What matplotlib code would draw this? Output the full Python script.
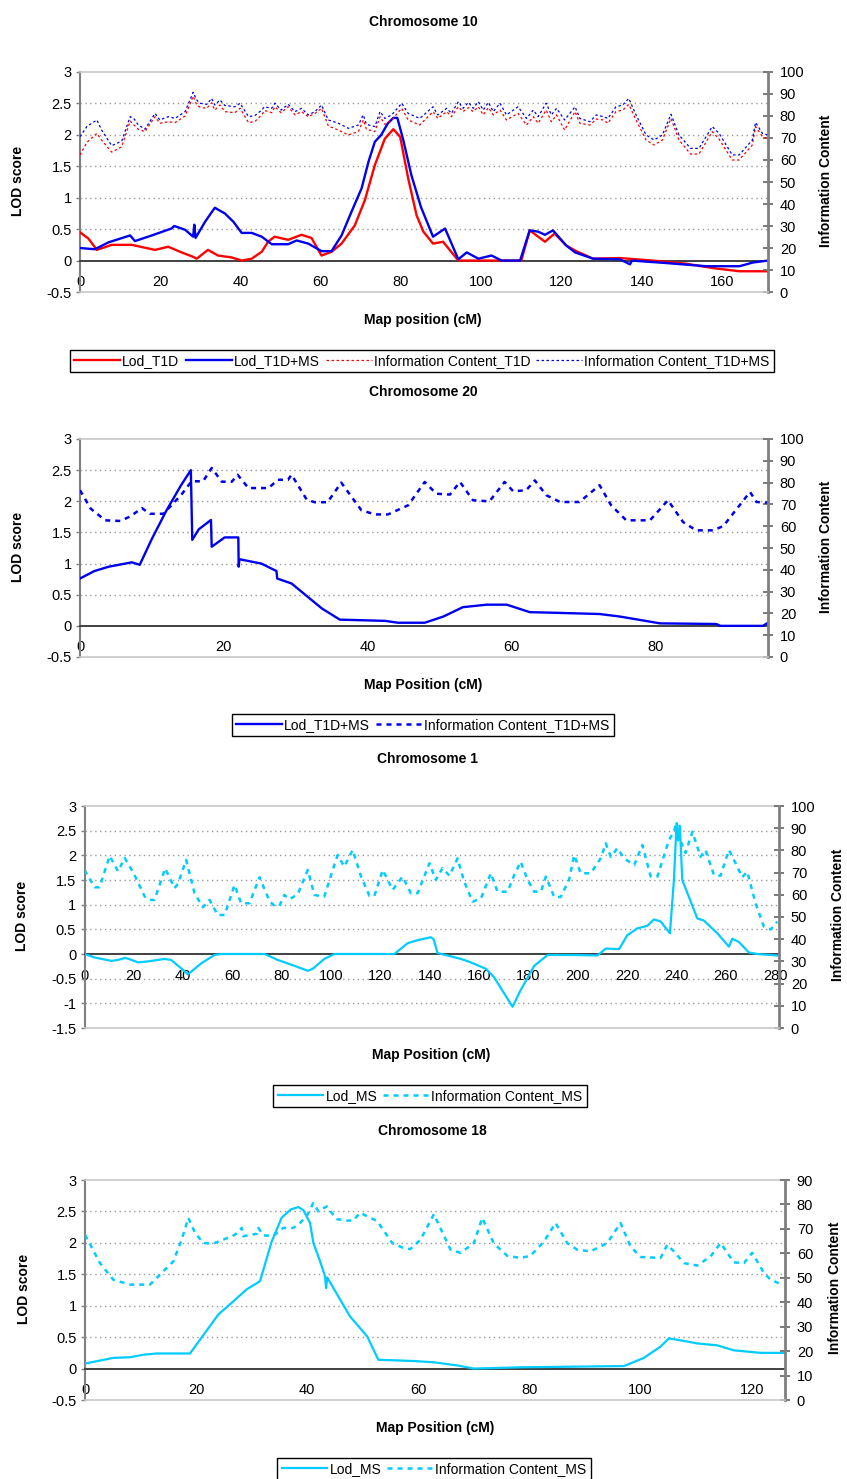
import matplotlib
matplotlib.use('Agg')
import matplotlib.pyplot as plt
from matplotlib.lines import Line2D

plt.rcParams['font.family'] = ['Liberation Sans', 'DejaVu Sans']

# ---------------- Chromosome 10 ----------------
c10_lod_t1d_pos = [0, 2.1, 4.2, 7.9, 12.9, 18.7, 22, 25.3, 28.2, 29.1, 31.9, 34.4, 37.8, 40.3, 42.8,
                   45.3, 46.9, 48.5, 51.9, 55.2, 57.7, 60.2, 62.7, 65.2, 68.5, 71, 73.5, 76, 78.1,
                   79.8, 81.8, 83.9, 85.6, 88, 90.5, 94.3, 104.7, 110, 112.1, 115.9, 118.3, 121.2,
                   123.7, 127.9, 134.6, 142.8, 151.1, 157.8, 164.4, 171.5]
c10_lod_t1d = [0.45, 0.35, 0.17, 0.25, 0.25, 0.17, 0.22, 0.13, 0.06, 0.03, 0.17, 0.08, 0.05, 0.0, 0.03,
               0.14, 0.3, 0.38, 0.33, 0.41, 0.36, 0.08, 0.14, 0.27, 0.56, 0.96, 1.52, 1.94, 2.09,
               1.97, 1.31, 0.72, 0.46, 0.27, 0.3, 0.0, 0.0, 0.0, 0.48, 0.3, 0.43, 0.24,
               0.15, 0.03, 0.04, 0.0, -0.05, -0.12, -0.17, -0.17]

c10_lod_ms_pos = [0, 3.7, 7.1, 12.5, 13.7, 17.9, 22.8, 23.5, 26.2, 28.2, 28.5, 28.8, 31.2, 33.6, 36.1,
                  38.2, 40.3, 42.8, 45.3, 47.8, 51.9, 54, 56.9, 60.2, 62.7, 65.2, 67.7, 70.2, 71.9,
                  73.5, 75.1, 76.7, 78.1, 79.1, 80.5, 82.6, 85, 88, 91, 94.3, 96.4, 99.3, 102.6,
                  105.1, 109.7, 112.1, 114.2, 115.9, 117.9, 121.2, 123.4, 127.9, 134.6, 137.1, 137.6,
                  146.2, 156.2, 164.4, 167.8, 171.5]
c10_lod_ms = [0.2, 0.18, 0.29, 0.4, 0.31, 0.4, 0.51, 0.55, 0.49, 0.38, 0.57, 0.36, 0.62, 0.84, 0.75,
              0.62, 0.44, 0.44, 0.38, 0.26, 0.26, 0.32, 0.27, 0.15, 0.15, 0.4, 0.78, 1.15, 1.57,
              1.89, 2.0, 2.18, 2.27, 2.27, 1.94, 1.36, 0.85, 0.38, 0.51, 0.02, 0.13, 0.03, 0.08,
              0.0, 0.0, 0.48, 0.46, 0.41, 0.48, 0.24, 0.13, 0.03, 0.02, -0.06, 0.0,
              -0.04, -0.09, -0.09, -0.03, 0.0]

c10_info_ms_pos = [0, 1.7, 4.2, 5.4, 7.9, 10.4, 12.5, 13.4, 14.5, 16.2, 18.7, 19.9, 22, 23.7, 26.2,
                   28.2, 29.1, 29.9, 31.6, 32.8, 33.6, 34.9, 36.1, 38.6, 39.9, 42, 43.6, 45.3, 46,
                   47.8, 48.6, 50.1, 51.9, 53.6, 55.2, 56.9, 58.6, 60.2, 61.9, 64.4, 66.9, 69.4,
                   70.6, 71.4, 73.5, 74.8, 76, 77.7, 80.2, 81.8, 84.7, 88, 89.2, 91.4, 92.6, 94.3,
                   95.5, 96.8, 98, 99.3, 100.5, 101.8, 103, 104.7, 106.3, 109.2, 111.3, 113, 114.2,
                   116.2, 117.5, 118.8, 120.8, 123.4, 124.6, 127.1, 128.7, 130.4, 131.6, 133.6,
                   135.3, 136.8, 138.6, 141.1, 143.1, 145.2, 147.3, 149.3, 152.2, 154.3, 157.6,
                   159.3, 162.6, 164.3, 167.6, 168.4, 170.1, 171.5]
c10_info_ms = [70.6, 75.2, 78.2, 73.6, 66.5, 68.6, 79.7, 78.9, 76.0, 74.0, 81.2, 78.2, 79.7, 78.9, 82.0,
               90.8, 87.3, 85.8, 85.3, 88.0, 85.0, 87.3, 84.8, 84.2, 85.8, 79.7, 80.2, 82.7, 84.2,
               83.5, 85.8, 82.7, 85.3, 82.0, 83.5, 80.5, 82.0, 85.0, 78.2, 76.7, 74.4, 75.9,
               80.5, 76.2, 75.2, 82.0, 78.9, 80.5, 85.8, 81.2, 78.9, 84.2, 80.5, 83.5, 81.2, 86.5,
               83.5, 86.2, 83.5, 86.5, 82.7, 86.2, 82.0, 85.8, 80.5, 84.2, 78.9, 82.7, 79.7,
               85.8, 80.5, 83.5, 78.2, 84.2, 78.9, 77.4, 80.5, 79.7, 78.9, 84.2,
               85.0, 88.0, 80.5, 71.4, 69.1, 71.4, 80.8, 71.4, 65.3, 65.3, 75.2,
               72.1, 62.3, 62.3, 69.1, 77.1, 72.1, 71.4]
c10_info_t1d = [62.3, 68.0, 72.1, 69.0, 63.6, 66.0, 77.7, 76.0, 74.0, 72.9, 79.7, 76.7, 77.4, 77.0, 80.0,
                89.0, 85.0, 84.0, 83.5, 86.0, 82.7, 85.0, 82.0, 81.5, 83.5, 77.0, 77.5, 80.5, 82.5,
                81.5, 84.2, 81.5, 84.2, 80.5, 82.0, 79.7, 81.2, 83.5, 75.5, 73.6, 71.4, 72.9,
                78.2, 74.0, 72.9, 79.7, 76.2, 78.2, 83.5, 78.2, 75.9, 82.0, 78.9, 82.0, 79.7, 84.2,
                82.0, 83.8, 82.0, 84.2, 80.5, 83.8, 80.5, 82.7, 78.2, 81.2, 75.9, 79.7, 76.7,
                82.7, 77.4, 80.5, 73.6, 82.0, 76.7, 75.9, 78.6, 78.2, 76.7, 82.0,
                82.7, 85.3, 78.2, 69.1, 66.8, 69.1, 78.9, 69.1, 62.7, 62.7, 72.9,
                69.5, 60.0, 60.0, 66.8, 75.2, 70.6, 69.5]

# ---------------- Chromosome 20 ----------------
c20_lod_pos = [0, 2, 4, 7.2, 8.3, 10, 12, 14, 15.4, 15.6, 16.5, 18.2, 18.3, 20.1, 22.0, 22.05, 22.15,
               25.2, 27.3, 27.4, 29.4, 33.6, 36.1, 42.4, 44.2, 47.9, 50.5, 53.2, 56.5, 59.3, 62.5,
               66, 72.2, 75, 80.6, 88.4, 89, 94.9, 95.6]
c20_lod = [0.76, 0.88, 0.95, 1.02, 0.98, 1.4, 1.85, 2.25, 2.5, 1.38, 1.55, 1.7, 1.27, 1.42, 1.42, 0.95, 1.07,
           1.0, 0.88, 0.76, 0.68, 0.28, 0.1, 0.08, 0.05, 0.05, 0.15, 0.3, 0.34, 0.34, 0.22,
           0.21, 0.19, 0.15, 0.04, 0.03, 0.0, 0.0, 0.05]
c20_info_pos = [0, 1.5, 3.5, 5.6, 7, 8.6, 9.7, 11.6, 14.1, 15.5, 17.1, 18.3, 19.7, 21.1, 21.9, 23.4,
                26.2, 27.5, 28.9, 29.4, 31.5, 32.6, 34.4, 36.3, 39.1, 41, 42.8, 45.6, 47.9, 49.5,
                51.4, 52.8, 54.6, 56.9, 59, 60.2, 62, 63.2, 64.8, 66.7, 69.4, 72.2, 73.8, 75.9,
                77.3, 79.2, 81.7, 83.8, 85.6, 88, 89.4, 93.1, 94, 95.6]
c20_info = [76.5, 68.0, 62.7, 62.4, 64.5, 68.3, 65.7, 65.7, 74.5, 80.6, 80.6, 86.7, 80.4, 80.4, 83.6, 77.5,
            77.5, 81.3, 81.3, 83.6, 72.2, 71.0, 71.0, 80.0, 67.3, 65.4, 65.4, 69.6, 80.3, 74.9,
            74.5, 80.3, 71.9, 71.4, 80.3, 76.0, 76.5, 81.0, 74.2, 71.1, 71.1, 78.8, 69.6, 62.7,
            62.7, 62.7, 71.9, 61.9, 58.1, 58.1, 60.1, 75.7, 71.1, 70.8]

# ---------------- Chromosome 1 ----------------
c1_lod_pos = [0, 4.1, 10.9, 13.6, 16.3, 18, 21.7, 25.7, 32.5, 35.1, 39.2, 41.9, 43.9, 47.3, 52.7, 55.4,
              73, 78.3, 85.1, 90.5, 92.5, 97.2, 101.3, 125.6, 131, 135, 140.4, 141.5, 143.1, 152.6,
              156.6, 162.7, 166, 173.5, 176.8, 182.3, 187.7, 198.5, 207.9, 211.3, 216.7, 220,
              224.1, 228.1, 230.8, 233.5, 237.3, 238.9, 240, 240.6, 241.3, 242.3, 248.4, 251,
              256.5, 261.2, 262.6, 265.3, 269.3, 272.7, 280.8]
c1_lod = [0, -0.07, -0.14, -0.12, -0.08, -0.1, -0.17, -0.15, -0.1, -0.12, -0.29, -0.41, -0.33, -0.19, -0.02, 0,
          0, -0.12, -0.24, -0.34, -0.3, -0.1, 0, 0, 0.22, 0.28, 0.34, 0.3, 0.02, -0.1,
          -0.17, -0.3, -0.47, -1.07, -0.73, -0.24, -0.02, -0.02, -0.03, 0.11, 0.1, 0.38,
          0.52, 0.57, 0.7, 0.66, 0.42, 1.5, 2.65, 2.3, 2.6, 1.5, 0.72, 0.68,
          0.42, 0.15, 0.31, 0.24, 0.03, 0.0, -0.03]
c1_info_pos = [0, 4.1, 6.1, 10.2, 13.6, 16.3, 20.3, 24.4, 26.4, 28.4, 32.7, 36.5, 37.9, 41.2, 44.6, 48,
               50.7, 54, 56.8, 60.8, 63.5, 66.9, 70.9, 75, 77, 79, 81, 83.1, 86.4, 90.5, 93.2,
               97.2, 100.6, 102.6, 105.3, 108.7, 112.1, 115.5, 117.5, 120.9, 124.9, 128.9, 132.3,
               135, 139.8, 142.4, 145.1, 147.9, 151.2, 153.9, 157.3, 160.7, 164.7, 167.4, 171.5,
               174.2, 176.8, 179.6, 182.3, 185, 187, 190.4, 193, 196.4, 198.5, 201.1, 205.2,
               209.2, 211.3, 213.3, 216, 218.7, 222.8, 226.1, 229.5, 232.2, 236.9, 238.9, 240,
               241, 243.6, 246.4, 249.7, 251.7, 255.1, 257.8, 261.2, 263.9, 266.6, 268.6, 272,
               275.4, 278.1, 280.8]
c1_info = [71.2, 63.4, 63.4, 77.5, 70.6, 76.6, 68.9, 59.2, 57.7, 57.7, 71.9, 63.0, 65.0, 75.7, 60.7, 54.4,
           57.7, 50.9, 50.9, 64.4, 56.2, 56.2, 67.9, 57.2, 55.0, 55.0, 59.9, 58.0, 60.2, 71.2, 59.9,
           59.2, 71.2, 77.9, 72.7, 80.2, 68.2, 59.5, 59.5, 71.2, 62.2, 68.2, 60.7,
           60.7, 74.2, 66.7, 72.0, 68.6, 76.4, 66.0, 56.9, 58.4, 69.7, 61.4, 61.4,
           69.0, 74.9, 66.7, 61.4, 61.4, 68.2, 59.0, 59.0, 66.7, 77.9, 69.7, 69.7,
           76.4, 83.2, 77.1, 81.0, 76.4, 73.4, 82.4, 68.2, 68.2, 84.7, 88.4, 92.9,
           86.0, 78.8, 88.4, 77.1, 80.2, 69.0, 68.6, 80.2, 74.2, 67.9, 70.4, 56.2,
           45.6, 44.4, 47.9]

# ---------------- Chromosome 18 ----------------
c18_lod_pos = [0, 5.1, 8.1, 10.5, 12.9, 18.9, 24, 26.7, 29.1, 31.5, 33.6, 35.4, 37, 38.4, 39.3, 40.5,
               41.1, 42.3, 43.2, 43.4, 43.6, 47.7, 50.8, 52.8, 59.2, 62.8, 67, 70, 78.4, 97,
               100.6, 103.6, 105.1, 107.8, 110.2, 113.8, 116.8, 121.6, 126]
c18_lod = [0.08, 0.17, 0.18, 0.22, 0.24, 0.24, 0.86, 1.07, 1.26, 1.39, 2.02, 2.4, 2.53, 2.57, 2.52, 2.32,
           2.0, 1.71, 1.47, 1.28, 1.45, 0.83, 0.51, 0.14, 0.12, 0.1, 0.05, 0.0, 0.02, 0.04,
           0.17, 0.35, 0.48, 0.44, 0.4, 0.37, 0.29, 0.25, 0.25]
c18_info_pos = [0, 2.7, 5.1, 8.1, 11.7, 13.5, 15.9, 17.4, 18.6, 19.8, 21.3, 23.1, 24.9, 27, 28.2, 28.5,
                30.9, 31.2, 32.1, 33.9, 35.7, 37.5, 38.7, 39.9, 41.1, 42, 43.5, 45.3, 47.2, 48.3,
                49.5, 51.4, 52.6, 55.3, 57.7, 58.6, 60.4, 62.8, 65.8, 67.6, 70, 71.5, 73.6, 76,
                78.4, 80.2, 82.6, 84.7, 86.8, 88.6, 91, 94, 96.4, 98.2, 100, 103.6, 104.8, 106,
                107.8, 110.2, 112.6, 114.4, 116.8, 118.6, 120.1, 122.2, 123.4, 125.5]
c18_info = [67.6, 56.0, 49.2, 47.2, 47.2, 51.3, 56.7, 65.6, 74.5, 68.4, 64.2, 64.0, 65.6, 67.6, 70.4, 67.0,
            68.0, 70.4, 67.3, 67.2, 70.4, 70.4, 72.4, 75.2, 80.6, 77.2, 79.2, 74.0, 73.4, 73.4,
            76.6, 74.5, 73.2, 64.2, 61.8, 61.8, 65.6, 76.0, 61.5, 60.2, 64.2, 74.5, 64.0, 59.0,
            58.1, 59.0, 64.8, 72.4, 64.2, 61.5, 60.8, 64.2, 72.4, 62.8, 58.5, 58.1, 63.5, 60.8,
            56.0, 55.0, 58.7, 64.2, 56.3, 56.0, 60.2, 52.0, 49.2, 47.2]

RED = '#FF0000'
BLUE = '#0000F0'
CYAN = '#00CCFF'
W, H = 847.0, 1479.0


def fx(px):
    return px / W


def fy(py):
    return 1 - py / H


def panel(left, right, top, bottom, xlim, ylim, yticks, info_max, xticks):
    ax = fig.add_axes([fx(left), fy(bottom), fx(right - left), (bottom - top) / H])
    ax.set_xlim(*xlim)
    ax.set_ylim(*ylim)
    ax.set_yticks(yticks)
    ax.set_yticklabels([('%g' % t) for t in yticks])
    ax.set_xticks(xticks)
    ax.set_xticklabels([('%g' % t) for t in xticks])
    for t in yticks:
        if t != 0 and t != ylim[0] and t != ylim[1]:
            ax.axhline(t, color='#999999', lw=1.0, ls=(0, (1, 2.5)), zorder=0)
    ax.spines['bottom'].set_position(('data', 0))
    ax.spines['bottom'].set_color('#404040')
    ax.spines['bottom'].set_linewidth(1.4)
    ax.spines['left'].set_color('#808080')
    ax.spines['left'].set_linewidth(1.5)
    ax.spines['top'].set_color('#c8c8c8')
    ax.spines['top'].set_linewidth(1.2)
    ax.spines['right'].set_visible(False)
    ax.tick_params(axis='y', direction='out', length=3, width=1, color='#808080',
                   labelsize=10.5, pad=3)
    ax.tick_params(axis='x', direction='out', length=0, labelsize=10.5, pad=10.5)
    ax2 = ax.twinx()
    ax2.set_ylim(0, info_max)
    ax2.set_yticks(list(range(0, info_max + 1, 10)))
    ax2.tick_params(axis='y', direction='inout', length=7, width=1.3, color='#707070',
                    labelsize=10.5, pad=5)
    ax2.spines['right'].set_color('#808080')
    ax2.spines['right'].set_linewidth(2)
    ax2.spines['bottom'].set_color('#c8c8c8')
    ax2.spines['bottom'].set_linewidth(1.2)
    ax2.spines['top'].set_visible(False)
    ax2.spines['left'].set_visible(False)
    return ax, ax2


def labels(title, tx, ty, xlab, xx, xy, ly_x, ly_y, ry_x, ry_y):
    fig.text(fx(tx), fy(ty), title, ha='center', va='center', fontsize=10, fontweight='bold')
    fig.text(fx(xx), fy(xy), xlab, ha='center', va='center', fontsize=10, fontweight='bold')
    fig.text(fx(ly_x), fy(ly_y), 'LOD score', ha='center', va='center', fontsize=10,
             fontweight='bold', rotation=90)
    fig.text(fx(ry_x), fy(ry_y), 'Information Content', ha='center', va='center', fontsize=10,
             fontweight='bold', rotation=90)


def legend(handles, names, cx, cy, ncol):
    leg = fig.legend(handles, names, loc='center', bbox_to_anchor=(fx(cx), fy(cy)), ncol=ncol,
                     frameon=True, fancybox=False, edgecolor='black', framealpha=1,
                     fontsize=10, handlelength=3.3, handletextpad=0.15, columnspacing=0.45,
                     borderpad=0.3, borderaxespad=0)
    leg.get_frame().set_linewidth(1.0)
    return leg


fig = plt.figure(figsize=(8.47, 14.79), dpi=100)

# Panel 1: Chromosome 10
ax, ax2 = panel(80, 768, 72, 292, (0, 171.5), (-0.5, 3), [-0.5, 0, 0.5, 1, 1.5, 2, 2.5, 3], 100,
                list(range(0, 161, 20)))
ax.plot(c10_lod_t1d_pos, c10_lod_t1d, color=RED, lw=1.7, zorder=3)
ax.plot(c10_lod_ms_pos, c10_lod_ms, color=BLUE, lw=1.7, zorder=4)
ax2.plot(c10_info_ms_pos, c10_info_t1d, color=RED, lw=0.9, ls=(0, (2, 2)))
ax2.plot(c10_info_ms_pos, c10_info_ms, color=BLUE, lw=0.9, ls=(0, (2, 2)))
labels('Chromosome 10', 423, 22, 'Map position (cM)', 423, 320, 18, 181, 826, 181)
legend([Line2D([], [], color=RED, lw=1.7), Line2D([], [], color=BLUE, lw=1.7),
        Line2D([], [], color=RED, lw=0.9, ls=(0, (2, 2))),
        Line2D([], [], color=BLUE, lw=0.9, ls=(0, (2, 2)))],
       ['Lod_T1D', 'Lod_T1D+MS', 'Information Content_T1D', 'Information Content_T1D+MS'],
       422, 361, 4)

# Panel 2: Chromosome 20
ax, ax2 = panel(80, 768, 439, 657, (0, 95.6), (-0.5, 3), [-0.5, 0, 0.5, 1, 1.5, 2, 2.5, 3], 100,
                list(range(0, 81, 20)))
ax.plot(c20_lod_pos, c20_lod, color=BLUE, lw=1.7, zorder=3)
ax2.plot(c20_info_pos, c20_info, color=BLUE, lw=1.8, ls=(0, (2, 2)))
labels('Chromosome 20', 423, 392, 'Map Position (cM)', 423, 685, 18, 547, 826, 547)
legend([Line2D([], [], color=BLUE, lw=1.7), Line2D([], [], color=BLUE, lw=1.8, ls=(0, (2, 2)))],
       ['Lod_T1D+MS', 'Information Content_T1D+MS'], 423, 725, 2)

# Panel 3: Chromosome 1
ax, ax2 = panel(84.5, 779, 806, 1028, (0, 281.5), (-1.5, 3),
                [-1.5, -1, -0.5, 0, 0.5, 1, 1.5, 2, 2.5, 3], 100, list(range(0, 281, 20)))
ax.plot(c1_lod_pos, c1_lod, color=CYAN, lw=1.6, zorder=3)
ax2.plot(c1_info_pos, c1_info, color=CYAN, lw=1.8, ls=(0, (2, 2)))
labels('Chromosome 1', 427, 759, 'Map Position (cM)', 431, 1055, 22, 916, 838, 915)
legend([Line2D([], [], color=CYAN, lw=1.6), Line2D([], [], color=CYAN, lw=1.8, ls=(0, (2, 2)))],
       ['Lod_MS', 'Information Content_MS'], 430, 1096, 2)

# Panel 4: Chromosome 18
ax, ax2 = panel(85, 785, 1180, 1400, (0, 126), (-0.5, 3), [-0.5, 0, 0.5, 1, 1.5, 2, 2.5, 3], 90,
                list(range(0, 121, 20)))
ax.plot(c18_lod_pos, c18_lod, color=CYAN, lw=1.6, zorder=3)
ax2.plot(c18_info_pos, c18_info, color=CYAN, lw=1.8, ls=(0, (2, 2)))
labels('Chromosome 18', 432, 1131, 'Map Position (cM)', 435, 1428, 24, 1289, 835, 1288)
legend([Line2D([], [], color=CYAN, lw=1.6), Line2D([], [], color=CYAN, lw=1.8, ls=(0, (2, 2)))],
       ['Lod_MS', 'Information Content_MS'], 434, 1469, 2)

fig.savefig('out.png', dpi=100)
